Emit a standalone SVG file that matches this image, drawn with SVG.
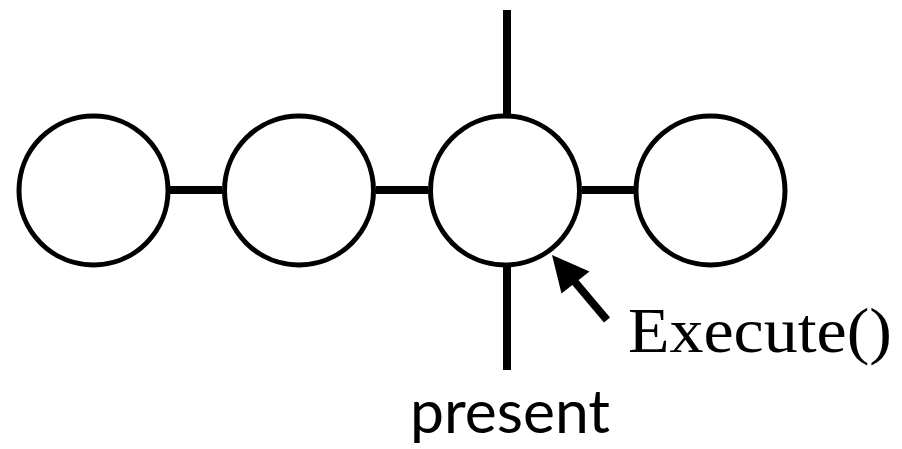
<svg xmlns="http://www.w3.org/2000/svg" width="902" height="449" viewBox="0 0 902 449">
<style>
.node{fill:#fff;stroke:#000;stroke-width:5}
.edge{stroke:#000;stroke-width:8;fill:none}
.lbl{fill:#000}
</style>
<rect width="902" height="449" fill="#fff"/>
<g id="connectors">
<line class="edge" x1="170" y1="190" x2="222" y2="190"/>
<line class="edge" x1="376" y1="190" x2="428" y2="190"/>
<line class="edge" x1="582" y1="190" x2="634" y2="190"/>
<line class="edge" x1="507" y1="10" x2="507" y2="116"/>
<line class="edge" x1="507" y1="264" x2="507" y2="370"/>
<line class="edge" x1="607" y1="320" x2="572" y2="278.5"/>
<polygon fill="#000" points="552,255 561.5,293.5 589.5,271.5"/>
</g>
<g id="node1"><circle class="node" cx="93.5" cy="190.5" r="74.5"/></g>
<g id="node2"><circle class="node" cx="299" cy="190.5" r="74.5"/></g>
<g id="node3"><circle class="node" cx="505" cy="190.5" r="74.5"/></g>
<g id="node4"><circle class="node" cx="710.5" cy="190.5" r="74.5"/></g>
<g id="label-execute"><text class="lbl" x="628" y="352" font-family="'Liberation Serif', serif" font-size="63" textLength="264" lengthAdjust="spacingAndGlyphs">Execute()</text></g>
<g id="label-present"><text class="lbl" x="410" y="433" font-family="Lato, 'Liberation Sans', sans-serif" font-size="60" textLength="200" lengthAdjust="spacingAndGlyphs">present</text></g>
</svg>
